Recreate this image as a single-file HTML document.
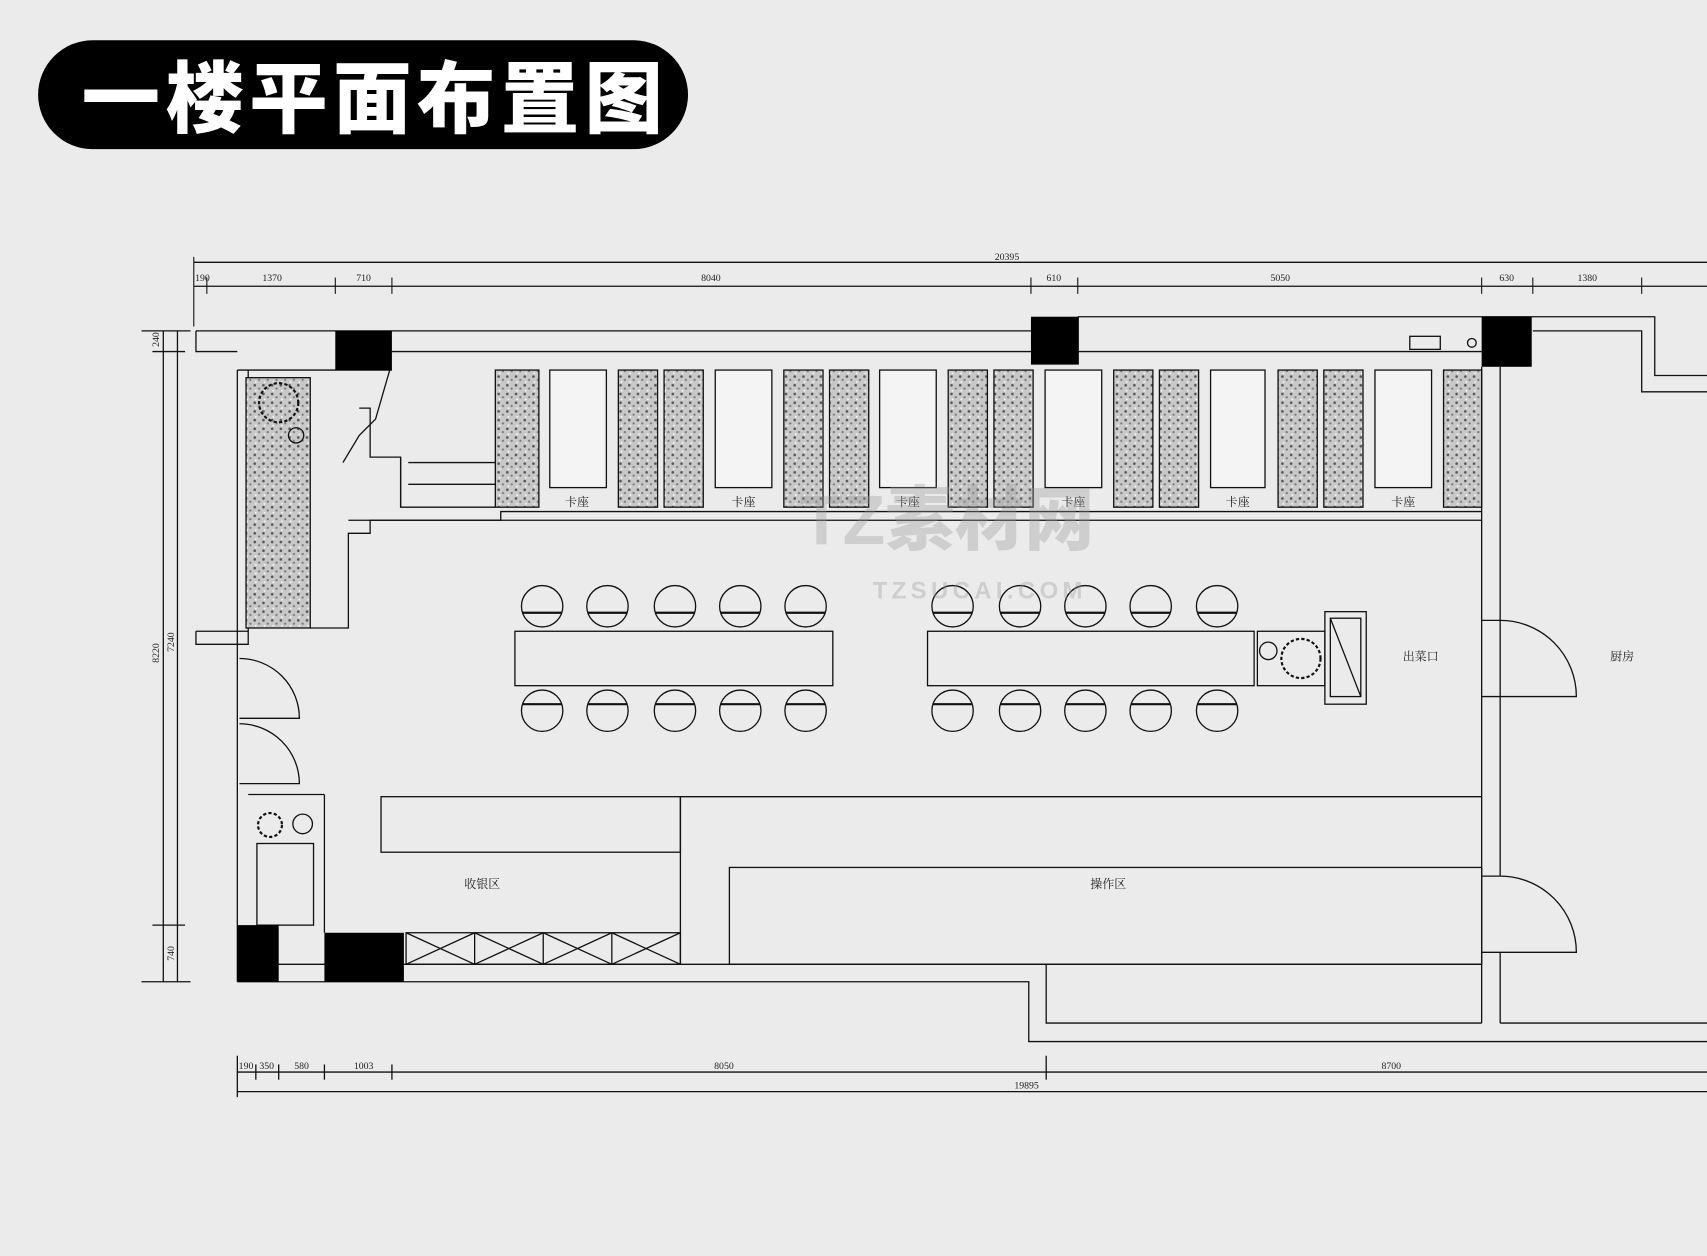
<!DOCTYPE html>
<html><head><meta charset="utf-8"><style>
html,body{margin:0;padding:0;background:#eaeaea;}
svg{display:block}
</style></head><body>
<svg width="1707" height="1256" viewBox="0 0 1568 1154" preserveAspectRatio="none" xmlns="http://www.w3.org/2000/svg">
<defs>
<pattern id="dots" width="8" height="8" patternUnits="userSpaceOnUse">
<rect width="8" height="8" fill="#c8c8c8"/><circle cx="2" cy="2" r="1.2" fill="#555"/><circle cx="6" cy="5" r="1" fill="#777"/><circle cx="3" cy="7" r="0.8" fill="#fff"/>
</pattern>
</defs>
<rect width="1568" height="1154" fill="#ebebeb"/>
<rect x="35" y="37" width="597" height="100" rx="50" fill="#000"/>
<text x="75" y="116" font-family="Liberation Sans,'Noto Sans CJK SC',sans-serif" font-weight="900" font-size="72" fill="#fff" letter-spacing="5">一楼平面布置图</text>

<g fill="none" stroke="#111" stroke-width="1.2">
<line x1="178" y1="241" x2="1568" y2="241"/>
<line x1="178" y1="263" x2="1568" y2="263"/>
<g stroke-width="1">
<line x1="178" y1="236" x2="178" y2="300"/><line x1="190" y1="255" x2="190" y2="270"/><line x1="308" y1="255" x2="308" y2="270"/><line x1="360" y1="255" x2="360" y2="270"/><line x1="947" y1="255" x2="947" y2="270"/><line x1="990" y1="255" x2="990" y2="270"/><line x1="1361" y1="255" x2="1361" y2="270"/><line x1="1408" y1="255" x2="1408" y2="270"/><line x1="1508" y1="255" x2="1508" y2="270"/>
</g>
<line x1="150" y1="304" x2="150" y2="902"/><line x1="163" y1="304" x2="163" y2="902"/>
<line x1="130" y1="304" x2="175" y2="304"/><line x1="130" y1="902" x2="175" y2="902"/><line x1="140" y1="323" x2="170" y2="323"/><line x1="140" y1="850" x2="170" y2="850"/>
<line x1="218" y1="985" x2="1568" y2="985"/><line x1="218" y1="1003" x2="1568" y2="1003"/>
<line x1="218" y1="970" x2="218" y2="1008"/><line x1="235" y1="978" x2="235" y2="992"/><line x1="256" y1="978" x2="256" y2="992"/><line x1="298" y1="978" x2="298" y2="992"/><line x1="360" y1="978" x2="360" y2="992"/><line x1="961" y1="970" x2="961" y2="992"/>

<polyline points="180,304 947,304"/><polyline points="990,291 1520,291 1520,345 1568,345"/>
<polyline points="1408,304 1508,304 1508,360 1568,360"/>
<polyline points="180,304 180,323 218,323"/>
<line x1="360" y1="323" x2="1361" y2="323"/>
<line x1="218" y1="340" x2="218" y2="902"/><line x1="228" y1="340" x2="228" y2="580"/>
<line x1="218" y1="340" x2="360" y2="340"/>
<polyline points="180,580 228,580 228,592 180,592 180,580"/>
<line x1="1361" y1="337" x2="1361" y2="940"/><line x1="1378" y1="337" x2="1378" y2="570"/><line x1="1378" y1="640" x2="1378" y2="805"/><line x1="1378" y1="875" x2="1378" y2="940"/>
<line x1="1361" y1="570" x2="1378" y2="570"/><line x1="1361" y1="640" x2="1378" y2="640"/><line x1="1361" y1="805" x2="1378" y2="805"/><line x1="1361" y1="875" x2="1378" y2="875"/>
<line x1="256" y1="886" x2="1361" y2="886"/>
<polyline points="218,902 945,902 945,957 1568,957"/>
<polyline points="961,886 961,940 1361,940"/><line x1="1378" y1="940" x2="1568" y2="940"/>
<polyline points="285,577 320,577 320,490 340,490 340,478 460,478 460,470 1361,470"/>
<line x1="320" y1="478" x2="1361" y2="478"/>
<polyline points="315,425 330,400 345,385 358,340"/>
<polyline points="330,375 340,375 340,420 368,420 368,466 455,466"/>
<line x1="375" y1="425" x2="455" y2="425"/><line x1="375" y1="445" x2="455" y2="445"/><line x1="368" y1="420" x2="368" y2="466"/>

<g fill="url(#dots)">
<rect x="455" y="340" width="40" height="126"/><rect x="568" y="340" width="36" height="126"/><rect x="610" y="340" width="36" height="126"/>
<rect x="720" y="340" width="36" height="126"/><rect x="762" y="340" width="36" height="126"/>
<rect x="871" y="340" width="36" height="126"/><rect x="913" y="340" width="36" height="126"/>
<rect x="1023" y="340" width="36" height="126"/><rect x="1065" y="340" width="36" height="126"/>
<rect x="1174" y="340" width="36" height="126"/><rect x="1216" y="340" width="36" height="126"/>
<rect x="1326" y="340" width="35" height="126"/>
<rect x="226" y="347" width="59" height="230"/>
</g>
<g fill="#f4f4f4">
<rect x="505" y="340" width="52" height="108"/><rect x="657" y="340" width="52" height="108"/><rect x="808" y="340" width="52" height="108"/>
<rect x="960" y="340" width="52" height="108"/><rect x="1112" y="340" width="50" height="108"/><rect x="1263" y="340" width="52" height="108"/>
</g>
<rect x="473" y="580" width="292" height="50"/><rect x="852" y="580" width="300" height="50"/>
<rect x="1217" y="562" width="38" height="85"/><line x1="1222" y1="568" x2="1250" y2="640"/><rect x="1222" y="568" width="28" height="72"/>
<rect x="1155" y="580" width="62" height="50"/>
<g>
<circle cx="498" cy="557" r="19"/><circle cx="558" cy="557" r="19"/><circle cx="620" cy="557" r="19"/><circle cx="680" cy="557" r="19"/><circle cx="740" cy="557" r="19"/>
<circle cx="875" cy="557" r="19"/><circle cx="937" cy="557" r="19"/><circle cx="997" cy="557" r="19"/><circle cx="1057" cy="557" r="19"/><circle cx="1118" cy="557" r="19"/>
<circle cx="498" cy="653" r="19"/><circle cx="558" cy="653" r="19"/><circle cx="620" cy="653" r="19"/><circle cx="680" cy="653" r="19"/><circle cx="740" cy="653" r="19"/>
<circle cx="875" cy="653" r="19"/><circle cx="937" cy="653" r="19"/><circle cx="997" cy="653" r="19"/><circle cx="1057" cy="653" r="19"/><circle cx="1118" cy="653" r="19"/>
</g>
<g stroke-width="2">
<line x1="480" y1="563" x2="516" y2="563"/><line x1="540" y1="563" x2="576" y2="563"/><line x1="602" y1="563" x2="638" y2="563"/><line x1="662" y1="563" x2="698" y2="563"/><line x1="722" y1="563" x2="758" y2="563"/>
<line x1="857" y1="563" x2="893" y2="563"/><line x1="919" y1="563" x2="955" y2="563"/><line x1="979" y1="563" x2="1015" y2="563"/><line x1="1039" y1="563" x2="1075" y2="563"/><line x1="1100" y1="563" x2="1136" y2="563"/>
<line x1="480" y1="647" x2="516" y2="647"/><line x1="540" y1="647" x2="576" y2="647"/><line x1="602" y1="647" x2="638" y2="647"/><line x1="662" y1="647" x2="698" y2="647"/><line x1="722" y1="647" x2="758" y2="647"/>
<line x1="857" y1="647" x2="893" y2="647"/><line x1="919" y1="647" x2="955" y2="647"/><line x1="979" y1="647" x2="1015" y2="647"/><line x1="1039" y1="647" x2="1075" y2="647"/><line x1="1100" y1="647" x2="1136" y2="647"/>
</g>
<rect x="350" y="732" width="275" height="51"/><line x1="625" y1="732" x2="1361" y2="732"/><line x1="625" y1="732" x2="625" y2="886"/>
<rect x="670" y="797" width="691" height="89"/>
<rect x="373" y="857" width="252" height="29"/>
<line x1="436" y1="857" x2="436" y2="886"/><line x1="499" y1="857" x2="499" y2="886"/><line x1="562" y1="857" x2="562" y2="886"/>
<path d="M373 857L436 886M436 857L373 886M436 857L499 886M499 857L436 886M499 857L562 886M562 857L499 886M562 857L625 886M625 857L562 886"/>
<rect x="236" y="775" width="52" height="75"/><line x1="228" y1="730" x2="298" y2="730"/><line x1="298" y1="730" x2="298" y2="857"/>
<path d="M1378 570 A70 70 0 0 1 1448 640 L1378 640"/><line x1="1378" y1="570" x2="1378" y2="640"/>
<path d="M1378 805 A70 70 0 0 1 1448 875 L1378 875"/>
<path d="M220 605 A55 55 0 0 1 275 660 L220 660"/><path d="M220 665 A55 55 0 0 1 275 720 L220 720"/>
<rect x="1295" y="309" width="28" height="12"/><circle cx="1352" cy="315" r="4"/>
<circle cx="256" cy="370" r="18" stroke-width="2" stroke-dasharray="3 2"/><circle cx="272" cy="400" r="7"/>
<circle cx="248" cy="758" r="11" stroke-width="2" stroke-dasharray="3 2"/><circle cx="278" cy="757" r="9"/>
<circle cx="1195" cy="605" r="18" stroke-width="2" stroke-dasharray="3 2"/><circle cx="1165" cy="598" r="8"/>
</g>
<g fill="#000">
<rect x="308" y="304" width="52" height="36"/><rect x="947" y="291" width="44" height="44"/><rect x="1361" y="291" width="46" height="46"/>
<rect x="218" y="850" width="38" height="52"/><rect x="298" y="857" width="73" height="45"/>
</g>
<g font-family="Liberation Serif,'Noto Serif CJK SC',serif" font-size="9" fill="#222" text-anchor="middle">
<text x="925" y="239">20395</text><text x="186" y="258">190</text><text x="250" y="258">1370</text><text x="334" y="258">710</text><text x="653" y="258">8040</text><text x="968" y="258">610</text><text x="1176" y="258">5050</text><text x="1384" y="258">630</text><text x="1458" y="258">1380</text>
<text x="226" y="982">190</text><text x="245" y="982">350</text><text x="277" y="982">580</text><text x="334" y="982">1003</text><text x="665" y="982">8050</text><text x="1278" y="982">8700</text><text x="943" y="1000">19895</text>
<text x="146" y="600" transform="rotate(-90 146 600)">8220</text><text x="160" y="590" transform="rotate(-90 160 590)">7240</text><text x="146" y="312" transform="rotate(-90 146 312)">240</text><text x="160" y="876" transform="rotate(-90 160 876)">740</text>
</g>
<g font-family="Liberation Serif,'Noto Serif CJK SC',serif" font-size="11" fill="#222" text-anchor="middle">
<text x="530" y="465">卡座</text><text x="683" y="465">卡座</text><text x="834" y="465">卡座</text><text x="986" y="465">卡座</text><text x="1137" y="465">卡座</text><text x="1289" y="465">卡座</text>
<text x="443" y="816">收银区</text><text x="1018" y="816">操作区</text><text x="1305" y="607">出菜口</text><text x="1490" y="607">厨房</text>
</g>
<text x="870" y="500" font-family="Liberation Sans,'Noto Sans CJK SC',sans-serif" font-weight="900" font-size="64" fill="#999" fill-opacity="0.35" text-anchor="middle">TZ素材网</text>
<text x="900" y="550" font-family="Liberation Sans,sans-serif" font-weight="700" font-size="22" fill="#999" fill-opacity="0.35" text-anchor="middle" letter-spacing="4">TZSUCAI.COM</text>
</svg>
</body></html>
